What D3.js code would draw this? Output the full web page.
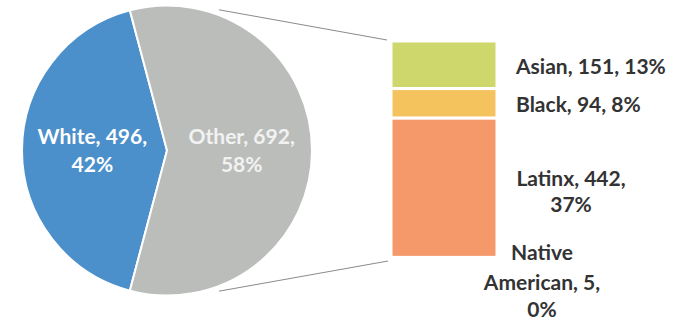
<!DOCTYPE html>
<html><head><meta charset="utf-8">
<script src="https://cdn.jsdelivr.net/npm/d3@7"></script>
<style>body{margin:0;background:#fff;}svg{display:block;}</style>
</head><body>
<svg id="c" width="687" height="321"></svg>
<script>
const pieCategories = ["White", "Other"];
const pieValues = [496, 692];
const piePercents = ["42%", "58%"];
const barCategories = ["Asian", "Black", "Latinx", "Native American"];
const barValues = [151, 94, 442, 5];
const barPercents = ["13%", "8%", "37%", "0%"];

const pieColors = ["#4b8fcb", "#bbbdbb"];
const barColors = ["#cdd76b", "#f5c35e", "#f5996b", "#f5996b"];
const font = "Lato, 'Open Sans', sans-serif";
const fs = 21;

const svg = d3.select("#c");
const cx = 167, cy = 150.5, R = 145;
const total = d3.sum(pieValues);
const spanW = pieValues[0] / total * 2 * Math.PI;

const pie = d3.pie().sort(null).value(d => d)
  .startAngle(-Math.PI/2 - spanW/2).endAngle(3*Math.PI/2 - spanW/2);
const arcs = pie(pieValues);
const arc = d3.arc().innerRadius(0).outerRadius(R);
const g = svg.append("g").attr("transform", `translate(${cx},${cy})`);
g.selectAll("path").data(arcs).join("path")
  .attr("d", arc).attr("fill", (d,i) => pieColors[i])
  .attr("stroke", "#fff").attr("stroke-width", 2);

// pie labels
const labelArc = d3.arc().innerRadius(R*0.515).outerRadius(R*0.515);
const pieTextColors = ["#ffffff", "#f2f2f2"];
arcs.forEach((d,i) => {
  const [x,yy] = labelArc.centroid(d);
  const t = g.append("text").attr("text-anchor","middle")
    .attr("font-family", font).attr("font-weight", 700).attr("font-size", fs)
    .attr("fill", pieTextColors[i]);
  t.append("tspan").attr("x", x).attr("y", yy - 6.5).text(`${pieCategories[i]}, ${pieValues[i]},`);
  t.append("tspan").attr("x", x).attr("y", yy + 21.5).text(piePercents[i]);
});

// bar
const barX = 391, barW = 106;
const y = d3.scaleLinear().domain([0, d3.sum(barValues)]).range([41, 259]);
const stack = d3.cumsum([0, ...barValues]);
svg.selectAll("rect.bar").data(barValues).join("rect")
  .attr("class","bar")
  .attr("x", barX).attr("width", barW)
  .attr("y", (d,i) => y(stack[i]))
  .attr("height", (d,i) => y(stack[i+1]) - y(stack[i]))
  .attr("fill", (d,i) => barColors[i])
  .attr("stroke", "#fff").attr("stroke-width", 3);

// connector lines
const ang = 20.3 * Math.PI/180, Rl = R + 5;
const p1 = [cx + Rl*Math.sin(ang), cy - Rl*Math.cos(ang)];
const p2 = [cx + Rl*Math.sin(ang), cy + Rl*Math.cos(ang)];
svg.append("line").attr("x1", p1[0]).attr("y1", p1[1]).attr("x2", barX - 4).attr("y2", y(0) - 1)
  .attr("stroke", "#8a8a8a").attr("stroke-width", 1);
svg.append("line").attr("x1", p2[0]).attr("y1", p2[1]).attr("x2", barX - 3).attr("y2", y(stack[4]) + 2)
  .attr("stroke", "#8a8a8a").attr("stroke-width", 1);

// bar labels
const lab = svg.append("g").attr("font-family", font).attr("font-weight", 700)
  .attr("font-size", fs).attr("fill", "#333333");
const labelLines = [
  [`${barCategories[0]}, ${barValues[0]}, ${barPercents[0]}`],
  [`${barCategories[1]}, ${barValues[1]}, ${barPercents[1]}`],
  [`${barCategories[2]}, ${barValues[2]},`, barPercents[2]],
  ["Native", `American, ${barValues[3]},`, barPercents[3]]
];
const labelPos = [
  {x: 516, anchor: "start", ys: [74]},
  {x: 516, anchor: "start", ys: [112]},
  {x: 571, anchor: "middle", ys: [186, 212]},
  {x: 542, anchor: "middle", ys: [260, 290, 317]}
];
labelLines.forEach((lines, i) => {
  const t = lab.append("text").attr("text-anchor", labelPos[i].anchor);
  lines.forEach((s, j) => t.append("tspan").attr("x", labelPos[i].x).attr("y", labelPos[i].ys[j]).text(s));
});
</script>
</body></html>
